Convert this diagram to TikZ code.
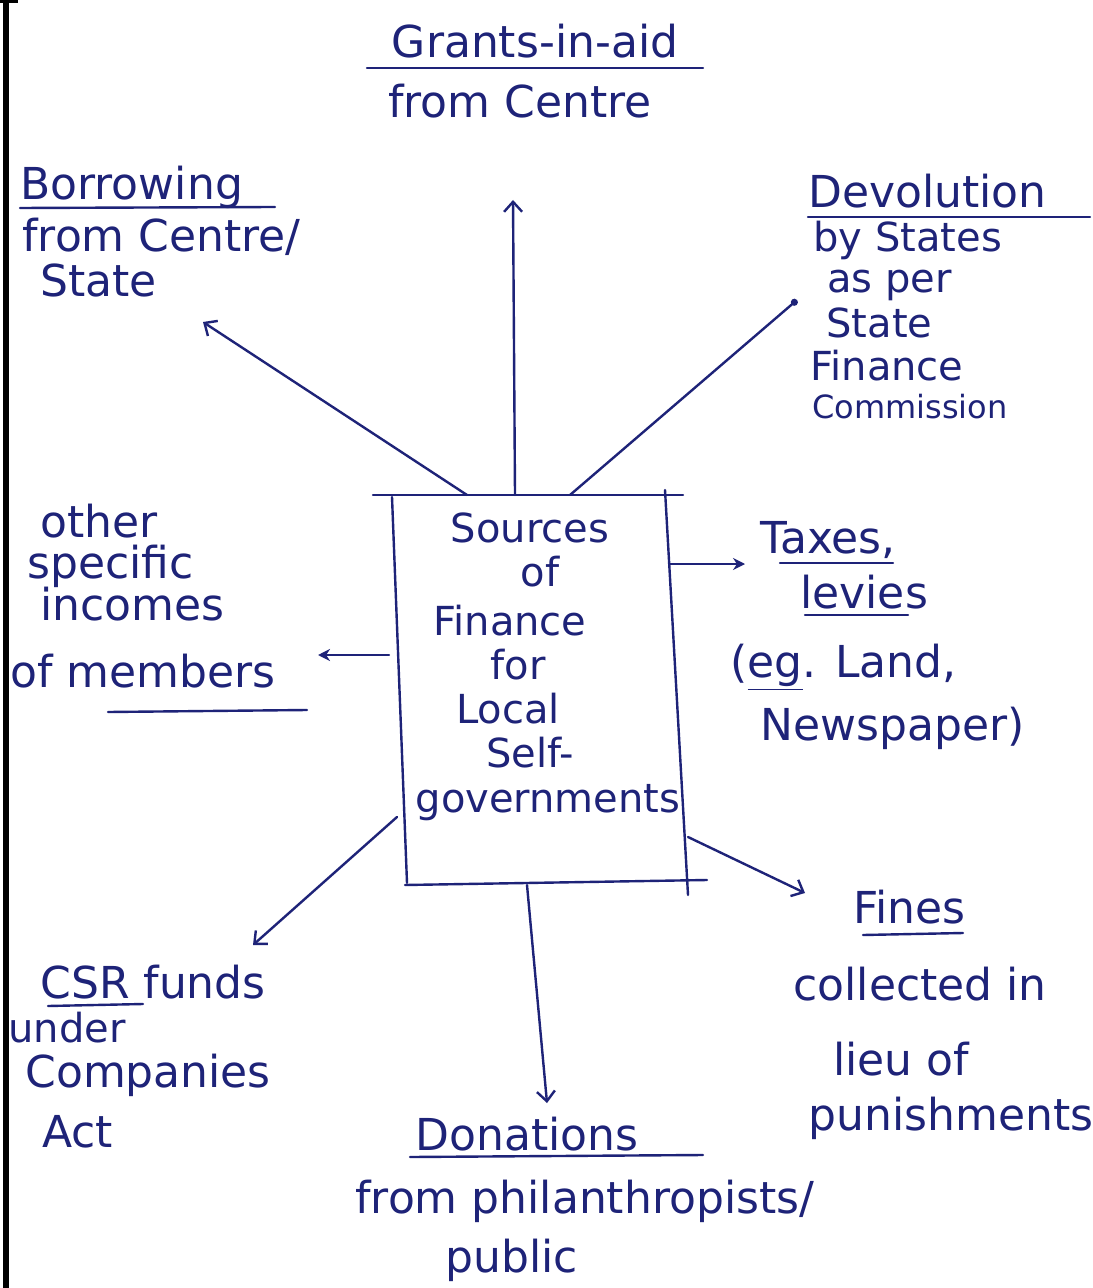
\documentclass[tikz,border=0pt]{standalone}
\usepackage{fontspec}
\setmainfont{DejaVu Sans}
\usetikzlibrary{arrows.meta}
\definecolor{ink}{RGB}{30,35,120}
\tikzset{
  pen/.style={draw=ink, line width=1.2pt, line cap=round, line join=round},
  hand/.style={text=ink, font=\fontsize{22}{24}\selectfont, inner sep=0pt},
  small/.style={font=\fontsize{20}{22}\selectfont},
  lw/.style={hand, anchor=base west},
  lc/.style={hand, anchor=base},
  barb/.style={pen, -{Straight Barb[length=5pt,width=9pt,line width=1.2pt]}},
  blob/.style={pen, -{Stealth[length=6pt,width=6pt]}},
  dot/.style={pen, -{Circle[length=3.5pt]}}
}
\begin{document}
\begin{tikzpicture}[x=0.5pt,y=-0.5pt]
\useasboundingbox (0,0) rectangle (1092,1288);
\fill[white] (0,0) rectangle (1092,1288);

% page margin
\draw[black, line width=3pt] (6,0) -- (6,1288);
\draw[black, line width=2pt] (0,1) -- (18,1);

% central box, sketched by hand
\draw[pen] (373,495) -- (683,495);
\draw[pen] (392,497) -- (407,883);
\draw[pen] (665,490) -- (688,895);
\draw[pen] (405,885) -- (707,880);

\node[lc, small] (s1) at (530,542) {Sources};
\node[lc, small] (s2) at (540,586) {of};
\node[lc, small] (s3) at (510,635) {Finance};
\node[lc, small] (s4) at (518,679) {for};
\node[lc, small] (s5) at (508,723) {Local};
\node[lc, small] (s6) at (530,767) {Self-};
\node[lc, small] (s7) at (548,812) {governments};

% grants-in-aid
\node[lc] (g1) at (535,58) {Grants-in-aid};
\node[lc] (g2) at (520,118) {from Centre};
\draw[pen] (367,68) -- (703,68);

% borrowing
\node[lw] (b1) at (20,200) {Borrowing};
\node[lw] (b2) at (22,252) {from Centre/};
\node[lw] (b3) at (40,297) {State};
\draw[pen] (20,208) -- (275,207);

% devolution
\node[lw] (d1) at (808,208) {Devolution};
\node[lw, small] (d2) at (813,252) {by States};
\node[lw, small] (d3) at (827,293) {as per};
\node[lw, small] (d4) at (826,338) {State};
\node[lw, small] (d5) at (810,380) {Finance};
\node[lw, font=\fontsize{16}{18}\selectfont] (d6) at (812,418) {Commission};
\draw[pen] (808,217) -- (1090,217);

% other incomes
\node[lw] (o1) at (40,537) {other};
\node[lw] (o2) at (27,578) {specific};
\node[lw] (o3) at (40,620) {incomes};
\node[lw] (o4) at (10,687) {of members};
\draw[pen] (108,712) -- (307,710);

% taxes
\node[lw] (t1) at (760,553) {Taxes,};
\node[lw] (t2) at (800,608) {levies};
\node[lw] (t3) at (730,677) {(\underline{eg}. Land,};
\node[lw] (t4) at (760,740) {Newspaper)};
\draw[pen] (780,563) -- (893,563);
\draw[pen] (805,615) -- (908,615);

% fines
\node[lw] (f1) at (853,923) {Fines};
\node[lw] (f2) at (793,1000) {collected in};
\node[lw] (f3) at (833,1075) {lieu of};
\node[lw] (f4) at (808,1130) {punishments};
\draw[pen] (863,935) -- (963,933);

% csr
\node[lw] (c1) at (40,998) {CSR funds};
\node[lw, small] (c2) at (8,1042) {under};
\node[lw] (c3) at (25,1087) {Companies};
\node[lw] (c4) at (42,1147) {Act};
\draw[pen] (48,1006) -- (143,1004);

% donations
\node[lw] (n1) at (415,1150) {Donations};
\node[lw] (n2) at (355,1213) {from philanthropists/};
\node[lw] (n3) at (445,1272) {public};
\draw[pen] (410,1157) -- (703,1155);

% connector ends
\coordinate (eUp) at (515,495);
\coordinate (eUL) at (467,495);
\coordinate (eUR) at (570,495);
\coordinate (eR) at (670,564);
\coordinate (eL) at (389,655);
\coordinate (eLL) at (397,817);
\coordinate (eLR) at (688,837);
\coordinate (eDn) at (527,885);

\coordinate (hUp) at (513,200);
\coordinate (hUL) at (203,322);
\coordinate (hUR) at (797,300);
\coordinate (hR) at (745,564);
\coordinate (hL) at (318,655);
\coordinate (hLL) at (253,945);
\coordinate (hLR) at (805,893);
\coordinate (hDn) at (547,1103);

\draw[barb] (eUp) -- (hUp);
\draw[barb] (eUL) -- (hUL);
\draw[dot] (eUR) -- (hUR);
\draw[blob] (eR) -- (hR);
\draw[blob] (eL) -- (hL);
\draw[barb] (eLL) -- (hLL);
\draw[barb] (eLR) -- (hLR);
\draw[barb] (eDn) -- (hDn);
\end{tikzpicture}
\end{document}
